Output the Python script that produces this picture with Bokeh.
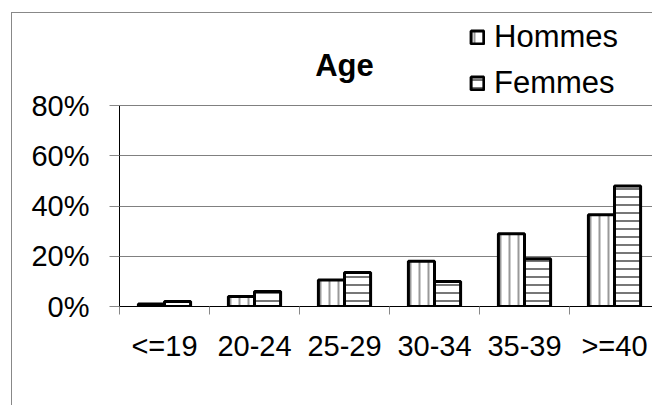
import numpy as np
from bokeh.plotting import figure
from bokeh.models import (ColumnDataSource, FixedTicker, Legend, LegendItem,
                          Range1d, Label, NumeralTickFormatter, InlineStyleSheet)
from bokeh.transform import dodge
from bokeh.embed import file_html
from bokeh.resources import INLINE

categories = ["<=19", "20-24", "25-29", "30-34", "35-39", ">=40"]
hommes = [0.01, 0.04, 0.105, 0.18, 0.29, 0.365]
femmes = [0.02, 0.06, 0.135, 0.10, 0.19, 0.48]
y_ticks = [0, 0.2, 0.4, 0.6, 0.8]

FONT = "Liberation Sans"
BW = 0.29

centers = np.arange(len(categories)) + 0.5
src = ColumnDataSource(dict(x=centers, cat=categories, h=hommes, f=femmes))

# frame: left 119, top 0, bottom 306 (0% line), 80% line at 105
y_end = 0.8 * 306 / 201
x_end = (652 - 119) / 90

border_css = InlineStyleSheet(css="""
:host::after {
  content: "";
  position: absolute;
  left: 11px; top: 12px; right: 0px; bottom: 0px;
  border-left: 1px solid #888888;
  border-top: 1px solid #888888;
  pointer-events: none;
}
""")

p = figure(width=652, height=405, output_backend="svg", toolbar_location=None,
           x_range=Range1d(0, x_end), y_range=Range1d(0, y_end),
           min_border_left=119, min_border_right=0, min_border_top=0,
           min_border_bottom=99, stylesheets=[border_css])
p.outline_line_color = None
p.background_fill_color = "white"
p.border_fill_color = "white"

rh = p.vbar(x=dodge("x", -BW / 2), top="h", width=BW, source=src,
            fill_color="white", line_color="black", line_width=3,
            hatch_pattern="vertical_line", hatch_color="#999999",
            hatch_weight=2, hatch_scale=9)
rf = p.vbar(x=dodge("x", BW / 2), top="f", width=BW, source=src,
            fill_color="white", line_color="black", line_width=3,
            hatch_pattern="horizontal_line", hatch_color="#777777",
            hatch_weight=2, hatch_scale=8)

# x axis
xa = p.xaxis[0]
xa.ticker = FixedTicker(ticks=list(centers),
                        minor_ticks=list(range(len(categories) + 1)))
xa.major_label_overrides = {float(c): lab for c, lab in zip(centers, categories)}
xa.major_tick_line_color = None
xa.minor_tick_line_color = "#888888"
xa.minor_tick_out = 8
xa.minor_tick_in = 0
xa.axis_line_color = "black"
xa.major_label_text_font = FONT
xa.major_label_text_font_size = "29px"
xa.major_label_text_color = "black"
xa.major_label_standoff = 15

ya = p.yaxis[0]
ya.ticker = FixedTicker(ticks=y_ticks)
ya.formatter = NumeralTickFormatter(format="0%")
ya.bounds = (0, 0.8)
ya.axis_line_color = "black"
ya.major_tick_line_color = "#888888"
ya.major_tick_out = 10
ya.major_tick_in = 0
ya.minor_tick_line_color = None
ya.major_label_text_font = FONT
ya.major_label_text_font_size = "29px"
ya.major_label_text_color = "black"
ya.major_label_standoff = 20

p.xgrid.grid_line_color = None
p.ygrid.ticker = FixedTicker(ticks=y_ticks)
p.ygrid.grid_line_color = "#808080"
p.ygrid.grid_line_width = 1

legend = Legend(items=[LegendItem(label="Hommes", renderers=[rh]),
                       LegendItem(label="Femmes", renderers=[rf])],
                location=(350, 205), padding=0, margin=0, spacing=10,
                glyph_width=16, glyph_height=16, label_standoff=9,
                label_text_font=FONT, label_text_font_size="31px",
                label_text_color="black",
                border_line_color=None, background_fill_alpha=0)
p.add_layout(legend, "center")

title = Label(x=2.5, y=0.959, text="Age",
              text_font=FONT, text_font_size="31px", text_font_style="bold",
              text_color="black",
              text_align="center", text_baseline="middle")
p.add_layout(title)

open("out.html", "w").write(file_html(p, INLINE))
